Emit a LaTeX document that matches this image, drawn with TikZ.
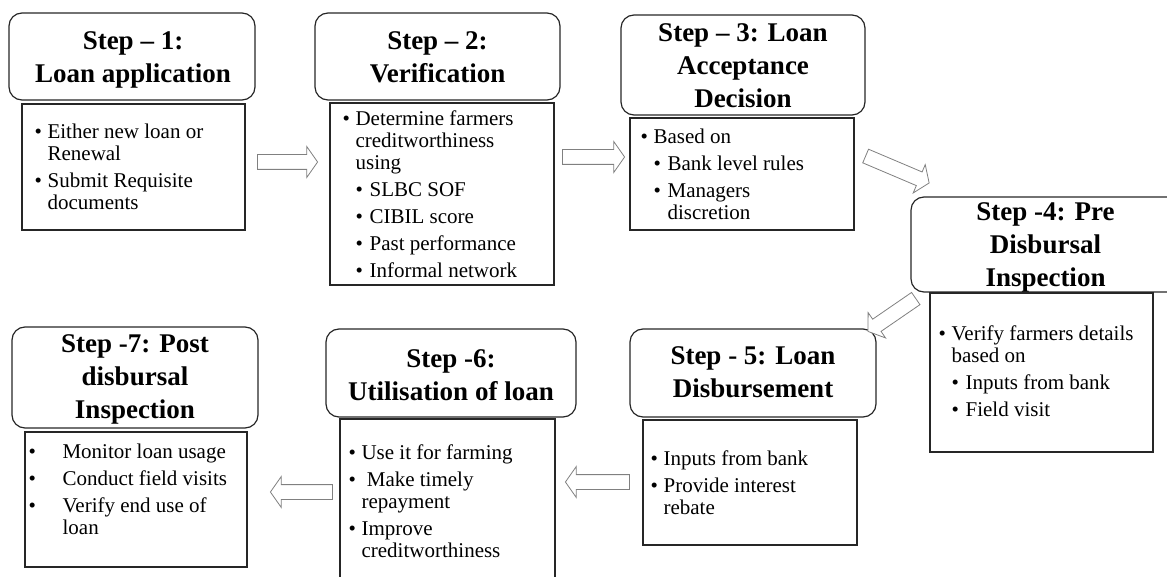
\documentclass[tikz,border=0pt]{standalone}
\usepackage{fontspec}
\setmainfont{Liberation Serif}
\usetikzlibrary{shapes.arrows}
\newcommand{\btext}[1]{\begin{minipage}[t]{215pt}\raggedright\setlength{\parskip}{5pt}#1\end{minipage}}
\newcommand{\bitem}[1]{\par\hangindent=13pt\hangafter=1\noindent\hbox to 13pt{\textbullet\hss}#1\par}
\newcommand{\sitem}[1]{\par\hangindent=27pt\hangafter=1\noindent\hspace*{13pt}\hbox to 14pt{\textbullet\hss}#1\par}
\newcommand{\witem}[1]{\par\hangindent=34pt\hangafter=1\noindent\hbox to 34pt{\textbullet\hss}#1\par}
\begin{document}
\begin{tikzpicture}[x=1pt,y=-1pt,
  stephead/.style={draw=black!85, line width=1.2pt, rounded corners=13pt, inner sep=0pt},
  headtext/.style={anchor=north, align=center, inner sep=0pt, font=\fontsize{27}{33}\selectfont\bfseries},
  stepbody/.style={draw=black!85, line width=1.2pt, inner sep=0pt},
  bodytext/.style={anchor=north west, inner sep=0pt, font=\fontsize{21}{22}\selectfont},
  blockarr/.style={single arrow, draw=black!50, fill=white, line width=0.8pt, inner xsep=0pt, inner ysep=7pt, minimum width=30pt, single arrow head extend=8pt, single arrow tip angle=110}]
\useasboundingbox (0,0) rectangle (1167,577);
\node[stephead, minimum width=246pt, minimum height=87pt] (s1) at (132,56.5) {};
\node[headtext] (h1) at (133,31.6) {Step – 1:\\Loan application};
\node[stepbody, minimum width=223pt, minimum height=126pt] (b1) at (133.5,167) {};
\node[bodytext] (t1) at ([xshift=13pt,yshift=-20.5pt]b1.north west) {\btext{\bitem{Either new loan or\newline Renewal}\bitem{Submit Requisite\newline documents}}};
\node[stephead, minimum width=245pt, minimum height=87pt] (s2) at (437.5,56.5) {};
\node[headtext] (h2) at (437.5,31.6) {Step – 2:\\Verification};
\node[stepbody, minimum width=224pt, minimum height=182pt] (b2) at (442,194) {};
\node[bodytext] (t2) at ([xshift=13pt,yshift=-8.5pt]b2.north west) {\btext{\bitem{Determine farmers\newline creditworthiness\newline using}\sitem{SLBC SOF}\sitem{CIBIL score}\sitem{Past performance}\sitem{Informal network}}};
\node[stephead, minimum width=244pt, minimum height=100pt] (s3) at (743,65) {};
\node[headtext] (h3) at (743,23.6) {Step – 3: Loan\\Acceptance\\Decision};
\node[stepbody, minimum width=224pt, minimum height=112pt] (b3) at (742,174) {};
\node[bodytext] (t3) at ([xshift=11pt,yshift=-11.5pt]b3.north west) {\btext{\bitem{Based on}\sitem{Bank level rules}\sitem{Managers\newline discretion}}};
\node[stephead, minimum width=269pt, minimum height=95pt] (s4) at (1045.5,244.5) {};
\node[headtext] (h4) at (1045.5,202.6) {Step -4: Pre\\Disbursal\\Inspection};
\node[stepbody, minimum width=223pt, minimum height=159pt] (b4) at (1041.5,372.5) {};
\node[bodytext] (t4) at ([xshift=9pt,yshift=-33.5pt]b4.north west) {\btext{\bitem{Verify farmers details\newline based on}\sitem{Inputs from bank}\sitem{Field visit}}};
\node[stephead, minimum width=246pt, minimum height=88pt] (s5) at (753,373) {};
\node[headtext] (h5) at (753,346.6) {Step - 5: Loan\\Disbursement};
\node[stepbody, minimum width=214pt, minimum height=125pt] (b5) at (750,482.5) {};
\node[bodytext] (t5) at ([xshift=8pt,yshift=-31.5pt]b5.north west) {\btext{\bitem{Inputs from bank}\bitem{Provide interest\newline rebate}}};
\node[stephead, minimum width=250pt, minimum height=88pt] (s6) at (451,373) {};
\node[headtext] (h6) at (451,349.6) {Step -6:\\Utilisation of loan};
\node[stepbody, minimum width=215pt, minimum height=176pt] (b6) at (447.5,507) {};
\node[bodytext] (t6) at ([xshift=9pt,yshift=-26.5pt]b6.north west) {\btext{\bitem{Use it for farming}\bitem{\ Make timely\newline repayment}\bitem{Improve\newline creditworthiness}}};
\node[stephead, minimum width=246pt, minimum height=101pt] (s7) at (135,377.5) {};
\node[headtext] (h7) at (135,334.6) {Step -7: Post\\disbursal\\Inspection};
\node[stepbody, minimum width=222pt, minimum height=135pt] (b7) at (136,499.5) {};
\node[bodytext] (t7) at ([xshift=4pt,yshift=-12.5pt]b7.north west) {\btext{\witem{Monitor loan usage}\witem{Conduct field visits}\witem{Verify end use of\newline loan}}};
\node[blockarr, minimum height=60pt] (a12) at (285,162) {};
\node[blockarr, minimum height=62pt] (a23) at (591,157) {};
\node[blockarr, minimum height=69pt, rotate=-23] (a34) at (895,168.5) {};
\node[blockarr, minimum height=58pt, rotate=214.5] (a45) at (894,313.5) {};
\node[blockarr, minimum height=64pt, rotate=180] (a56) at (600,482) {};
\node[blockarr, minimum height=62pt, rotate=180] (a67) at (304,492) {};
\end{tikzpicture}
\end{document}
